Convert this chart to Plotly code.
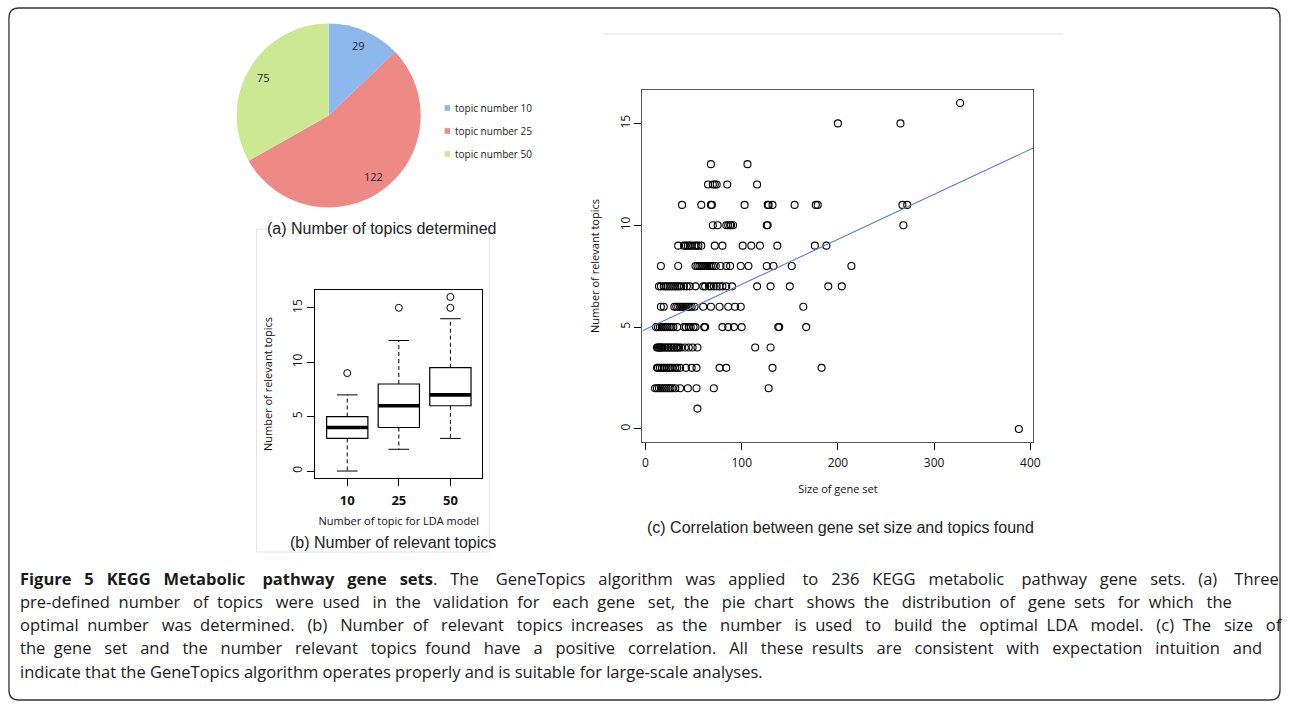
import math
import plotly.graph_objects as go

W, H = 1290, 704


def px(x):
    return x / W


def py(y):
    return 1 - y / H


# ---------------- (a) pie data ----------------
pie_labels = ["topic number 10", "topic number 25", "topic number 50"]
pie_values = [29, 122, 75]
pie_colors = ["#8cb8ee", "#ee8a86", "#cde893"]

# ---------------- (b) box plot data ----------------
box_categories = ["10", "25", "50"]
box_lower = [0, 2, 3]
box_q1 = [3, 4, 6]
box_median = [4, 6, 7]
box_q3 = [5, 8, 9.5]
box_upper = [7, 12, 14]
box_outliers = [[9], [15], [15, 16]]

# ---------------- (c) scatter data (gene set size per number of relevant topics) ----------------
sizes_16 = [327]
sizes_15 = [200, 265]
sizes_13 = [68, 106]
sizes_12 = [65, 70, 72, 74, 85, 116]
sizes_11 = [38, 58, 68, 69, 103, 127, 128, 132, 155, 177, 179, 267, 272]
sizes_10 = [70, 75, 84, 86, 88, 89, 91, 126, 127, 268]
sizes_9 = [34, 40, 42, 44, 46, 48, 51, 53, 55, 58, 72, 80, 101, 110, 119, 137, 176, 188]
sizes_8 = [16, 34, 52, 54, 56, 58, 60, 62, 64, 66, 68, 70, 73, 78, 84, 88, 99, 107, 126, 133,
           152, 214]
sizes_7 = [14, 16, 19, 21, 23, 25, 27, 29, 31, 33, 35, 37, 40, 43, 46, 52, 60, 62, 66, 68, 71,
           74, 77, 80, 84, 90, 116, 130, 150, 190, 204]
sizes_6 = [16, 19, 30, 32, 34, 36, 38, 40, 42, 44, 46, 48, 51, 60, 68, 77, 86, 93, 99, 164]
sizes_5 = [11, 13, 15, 17, 19, 21, 23, 25, 27, 29, 33, 40, 42, 45, 47, 50, 52, 61, 62, 80, 86,
           92, 100, 138, 139, 167]
sizes_4 = [12, 13, 14, 15, 16, 17, 18, 20, 21, 23, 24, 26, 27, 29, 30, 32, 33, 35, 37, 41, 45,
           49, 54, 114, 130]
sizes_3 = [12, 13, 15, 17, 19, 20, 22, 24, 26, 28, 31, 33, 36, 42, 48, 53, 77, 84, 132, 183]
sizes_2 = [10, 12, 14, 16, 18, 20, 22, 24, 26, 28, 31, 36, 44, 53, 71, 128]
sizes_1 = [54]
sizes_0 = [388]
topic_levels = [16, 15, 13, 12, 11, 10, 9, 8, 7, 6, 5, 4, 3, 2, 1, 0]
size_rows = [sizes_16, sizes_15, sizes_13, sizes_12, sizes_11, sizes_10, sizes_9,
             sizes_8, sizes_7, sizes_6, sizes_5, sizes_4, sizes_3, sizes_2, sizes_1, sizes_0]
fit_intercept = 4.89
fit_slope = 0.0221

# caption
caption_lines = [
    "<b>Figure 5 KEGG Metabolic pathway gene sets</b>. The GeneTopics algorithm was applied to 236 KEGG metabolic pathway gene sets. (a) Three",
    "pre-defined number of topics were used in the validation for each gene set, the pie chart shows the distribution of gene sets for which the",
    "optimal number was determined. (b) Number of relevant topics increases as the number is used to build the optimal LDA model. (c) The size of",
    "the gene set and the number relevant topics found have a positive correlation. All these results are consistent with expectation intuition and",
    "indicate that the GeneTopics algorithm operates properly and is suitable for large-scale analyses.",
]
# extra word-spacing (number of no-break spaces) per caption line to mimic justified text
caption_extra_nbsp = [45, 36, 39, 39, 0]

AX_FONT = "Open Sans, Noto Sans, sans-serif"
ARIAL = "Liberation Sans, Arial, sans-serif"

fig = go.Figure()

# ---- pie ----
pie_x0, pie_x1, pie_y0, pie_y1 = 238, 423, 23, 208
fig.add_trace(go.Pie(
    labels=pie_labels, values=pie_values, sort=False, direction="clockwise", rotation=0,
    marker=dict(colors=pie_colors, line=dict(width=0)),
    textinfo="none",
    domain=dict(x=[px(pie_x0), px(pie_x1)], y=[py(pie_y1), py(pie_y0)]),
    showlegend=False, hoverinfo="label+value",
))

# ---- box plot (R style) ----
bw = 0.4
for i, cat in enumerate(box_categories):
    xc = i + 1
    q1, q3, md = box_q1[i], box_q3[i], box_median[i]
    lo, hi = box_lower[i], box_upper[i]
    fig.add_trace(go.Scatter(
        x=[xc, xc, None, xc, xc], y=[q3, hi, None, q1, lo], mode="lines",
        line=dict(color="black", width=1, dash="4px,3px"),
        xaxis="x", yaxis="y", showlegend=False, hoverinfo="skip"))
    fig.add_trace(go.Scatter(
        x=[xc - bw / 2, xc + bw / 2, None, xc - bw / 2, xc + bw / 2], y=[hi, hi, None, lo, lo],
        mode="lines", line=dict(color="black", width=1),
        xaxis="x", yaxis="y", showlegend=False, hoverinfo="skip"))
    fig.add_trace(go.Scatter(
        x=[xc - bw, xc + bw, xc + bw, xc - bw, xc - bw], y=[q1, q1, q3, q3, q1],
        mode="lines", line=dict(color="black", width=1.2), fill="toself", fillcolor="white",
        xaxis="x", yaxis="y", showlegend=False, hoverinfo="skip"))
    fig.add_trace(go.Scatter(
        x=[xc - bw, xc + bw], y=[md, md], mode="lines", line=dict(color="black", width=3.6),
        xaxis="x", yaxis="y", showlegend=False, hoverinfo="skip"))
    fig.add_trace(go.Scatter(
        x=[xc] * len(box_outliers[i]), y=box_outliers[i], mode="markers",
        marker=dict(symbol="circle-open", size=7, color="black", line=dict(width=1)),
        xaxis="x", yaxis="y", showlegend=False, hoverinfo="y"))

# ---- scatter ----
sx, sy = [], []
for lvl, row in zip(topic_levels, size_rows):
    sx += row
    sy += [lvl] * len(row)
fig.add_trace(go.Scatter(
    x=sx, y=sy, mode="markers",
    marker=dict(symbol="circle-open", size=7, color="black", line=dict(width=1.1)),
    xaxis="x2", yaxis="y2", showlegend=False))

x2_range = [-3.1, 403.1]
fig.add_trace(go.Scatter(
    x=x2_range, y=[fit_intercept + fit_slope * v for v in x2_range], mode="lines",
    line=dict(color="#5b7fd0", width=1.1), xaxis="x2", yaxis="y2",
    showlegend=False, hoverinfo="skip"))

axis_common = dict(showline=True, mirror=True, linecolor="black", linewidth=1,
                   ticks="outside", ticklen=7, tickcolor="black", showgrid=False,
                   zeroline=False)

fig.update_layout(
    width=W, height=H, margin=dict(l=0, r=0, t=0, b=0),
    paper_bgcolor="white", plot_bgcolor="white",
    xaxis=dict(domain=[px(317), px(485)], range=[0.38, 3.62], anchor="y",
               tickvals=[1, 2, 3], ticktext=box_categories, ticklabelstandoff=3,
               tickfont=dict(family=AX_FONT, size=13, color="#111", weight="bold"),
               title=dict(text="Number of topic for LDA model", standoff=9,
                          font=dict(family=AX_FONT, size=11, color="#111")),
               **axis_common),
    yaxis=dict(domain=[py(478), py(290)], range=[-0.64, 16.64], anchor="x",
               tickvals=[0, 5, 10, 15], tickangle=-90,
               tickfont=dict(family=AX_FONT, size=12, color="#111"),
               title=dict(text="Number of relevant topics", standoff=14,
                          font=dict(family=AX_FONT, size=11, color="#111")),
               **axis_common),
    xaxis2=dict(domain=[px(646), px(1039)], range=x2_range, anchor="y2",
                tickvals=[0, 100, 200, 300, 400], ticklabelstandoff=3,
                tickfont=dict(family=AX_FONT, size=12, color="#111"),
                title=dict(text="Size of gene set", standoff=14,
                           font=dict(family=AX_FONT, size=11, color="#111")),
                **{**axis_common, "linecolor": "#555"}),
    yaxis2=dict(domain=[py(442), py(90)], range=[-0.64, 16.64], anchor="x2",
                tickvals=[0, 5, 10, 15], tickangle=-90,
                tickfont=dict(family=AX_FONT, size=12, color="#111"),
                title=dict(text="Number of relevant topics", standoff=14,
                           font=dict(family=AX_FONT, size=11, color="#111")),
                **{**axis_common, "linecolor": "#555"}),
)

shapes = []
annotations = []

# outer rounded frame
r_x, r_y = 10 / W, 10 / H
x0, x1, y0, y1 = px(9), px(1287), py(700), py(8)
path = (f"M {x0 + r_x},{y1} L {x1 - r_x},{y1} Q {x1},{y1} {x1},{y1 - r_y} "
        f"L {x1},{y0 + r_y} Q {x1},{y0} {x1 - r_x},{y0} L {x0 + r_x},{y0} "
        f"Q {x0},{y0} {x0},{y0 + r_y} L {x0},{y1 - r_y} Q {x0},{y1} {x0 + r_x},{y1} Z")
shapes.append(dict(type="path", path=path, xref="paper", yref="paper",
                   line=dict(color="#333", width=1.3), layer="below"))
# faint panel borders
shapes.append(dict(type="rect", xref="paper", yref="paper", x0=px(258), x1=px(492),
                   y0=py(552), y1=py(229), line=dict(color="#e2e2e2", width=1), layer="below"))
shapes.append(dict(type="line", xref="paper", yref="paper", x0=px(607), x1=px(1068),
                   y0=py(34), y1=py(34), line=dict(color="#e2e2e2", width=1), layer="below"))

# pie value labels placed along each slice's mid-angle
pcx, pcy = (pie_x0 + pie_x1) / 2, (pie_y0 + pie_y1) / 2
prad = min(pie_x1 - pie_x0, pie_y1 - pie_y0) / 2
total = sum(pie_values)
cum = 0
for v in pie_values:
    mid = (cum + v / 2) / total * 2 * math.pi
    cum += v
    lx = pcx + 0.82 * prad * math.sin(mid)
    ly = pcy - 0.82 * prad * math.cos(mid)
    annotations.append(dict(text=str(v), xref="paper", yref="paper", x=px(lx), y=py(ly),
                            xanchor="center", yanchor="middle", showarrow=False,
                            font=dict(family=AX_FONT, size=11, color="#222")))

# pie legend
for i, (lab, col) in enumerate(zip(pie_labels, pie_colors)):
    yc = 108 + 23 * i
    shapes.append(dict(type="rect", xref="paper", yref="paper",
                       x0=px(447), x1=px(452.5), y0=py(yc + 2.8), y1=py(yc - 2.8),
                       fillcolor=col, line=dict(width=0)))
    annotations.append(dict(text=lab, xref="paper", yref="paper", x=px(455), y=py(yc),
                            xanchor="left", yanchor="middle", showarrow=False,
                            font=dict(family=AX_FONT, size=10, color="#222")))

# sub-figure captions
annotations.append(dict(text="(a) Number of topics determined", xref="paper", yref="paper",
                        x=px(384), y=py(228), xanchor="center", yanchor="middle", showarrow=False,
                        font=dict(family=ARIAL, size=16, color="#222")))
annotations.append(dict(text="(b) Number of relevant topics", xref="paper", yref="paper",
                        x=px(395), y=py(542), xanchor="center", yanchor="middle", showarrow=False,
                        font=dict(family=ARIAL, size=16, color="#222")))
annotations.append(dict(text="(c) Correlation between gene set size and topics found",
                        xref="paper", yref="paper", x=px(845), y=py(527), xanchor="center",
                        yanchor="middle", showarrow=False,
                        font=dict(family=ARIAL, size=16, color="#222")))


def spread(line, extra):
    words = line.split(" ")
    n = len(words) - 1
    if n <= 0 or extra <= 0:
        return line
    out = words[0]
    for i in range(n):
        k = (i + 1) * extra // n - i * extra // n
        out += " " + "\u00a0" * k + words[i + 1]
    return out


for i, line in enumerate(caption_lines):
    annotations.append(dict(text=spread(line, caption_extra_nbsp[i]), xref="paper", yref="paper",
                            x=px(18), y=py(578 + 23.3 * i), xanchor="left", yanchor="middle",
                            showarrow=False, font=dict(family=AX_FONT, size=16.5, color="#1a1a1a")))

fig.update_layout(shapes=shapes, annotations=annotations)
fig.write_html("out.html")
